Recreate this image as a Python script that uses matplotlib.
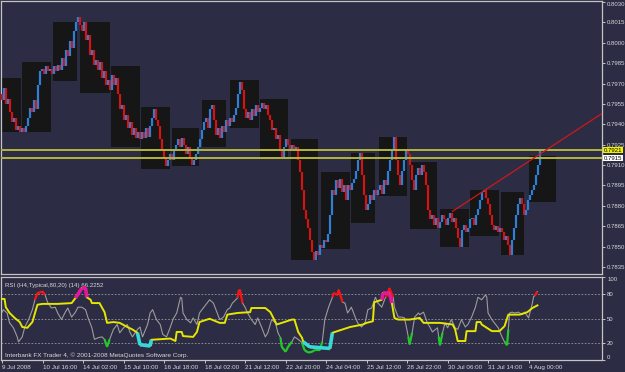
import numpy as np
import matplotlib
matplotlib.use("Agg")
import matplotlib.pyplot as plt
import matplotlib.transforms as mtransforms

# ---- data ----------------------------------------------------------------
# H1 closes, 9 Jul 2008 08:00 .. 4 Aug 2008 (about one sample per 1.6 bars)
closes = [
    0.7958, 0.7967, 0.7955, 0.7959, 0.7949, 0.7942, 0.7945, 0.7936, 0.7939, 0.7934,
    0.7937, 0.7934, 0.7939, 0.7945, 0.7952, 0.7949, 0.7958, 0.7951, 0.7969, 0.7979,
    0.7981, 0.7977, 0.7983, 0.7979, 0.7981, 0.7977, 0.7983, 0.7979, 0.7984, 0.7980,
    0.7989, 0.7983, 0.7995, 0.7990, 0.8001, 0.7996, 0.8009, 0.8015, 0.8019, 0.8013,
    0.8009, 0.8015, 0.8002, 0.8006, 0.7991, 0.7995, 0.7984, 0.7987, 0.7980, 0.7986,
    0.7974, 0.7979, 0.7969, 0.7973, 0.7965,
    0.7976, 0.7969, 0.7974, 0.7962, 0.7951, 0.7954, 0.7943, 0.7947, 0.7937, 0.7942,
    0.7932, 0.7937, 0.7930, 0.7934, 0.7929, 0.7934, 0.7930, 0.7937, 0.7931, 0.7939,
    0.7945, 0.7951, 0.7943, 0.7939, 0.7929, 0.7921, 0.7915, 0.7909, 0.7914, 0.7918,
    0.7914, 0.7921, 0.7925, 0.7929, 0.7923, 0.7930, 0.7925, 0.7918, 0.7923, 0.7915,
    0.7910, 0.7914, 0.7918, 0.7923, 0.7929,
    0.7936, 0.7942, 0.7945, 0.7937, 0.7951, 0.7954, 0.7943, 0.7932, 0.7937, 0.7930,
    0.7939, 0.7934, 0.7943, 0.7939, 0.7945,
    0.7942, 0.7947, 0.7952, 0.7962, 0.7971, 0.7965, 0.7951, 0.7945, 0.7949, 0.7943,
    0.7951, 0.7946, 0.7954, 0.7949, 0.7952,
    0.7956, 0.7951, 0.7954, 0.7947, 0.7943, 0.7936, 0.7937, 0.7929, 0.7932, 0.7921,
    0.7915, 0.7923, 0.7929, 0.7925, 0.7921,
    0.7925, 0.7920, 0.7923, 0.7914, 0.7905, 0.7892, 0.7877, 0.7870, 0.7864, 0.7855,
    0.7846, 0.7840, 0.7847, 0.7844, 0.7851,
    0.7849, 0.7855, 0.7853, 0.7859, 0.7873, 0.7892, 0.7888, 0.7899, 0.7893, 0.7900,
    0.7890, 0.7895, 0.7884, 0.7895, 0.7892,
    0.7897, 0.7900, 0.7906, 0.7914, 0.7919, 0.7903, 0.7888, 0.7877, 0.7881, 0.7888,
    0.7884, 0.7892, 0.7888, 0.7892, 0.7895,
    0.7889, 0.7899, 0.7895, 0.7906, 0.7914, 0.7921, 0.7931, 0.7914, 0.7903, 0.7895,
    0.7906, 0.7914, 0.7921, 0.7918, 0.7910,
    0.7899, 0.7892, 0.7903, 0.7908, 0.7903, 0.7910, 0.7905, 0.7895, 0.7877, 0.7870,
    0.7873, 0.7866, 0.7871, 0.7864, 0.7868,
    0.7873, 0.7870, 0.7866, 0.7871, 0.7875, 0.7868, 0.7871, 0.7864, 0.7856, 0.7850,
    0.7862, 0.7866, 0.7861, 0.7864, 0.7870,
    0.7871, 0.7866, 0.7873, 0.7878, 0.7884, 0.7890, 0.7892, 0.7886, 0.7881, 0.7873,
    0.7866, 0.7862, 0.7865, 0.7861, 0.7864,
    0.7861, 0.7855, 0.7858, 0.7851, 0.7844, 0.7855, 0.7864, 0.7873, 0.7881, 0.7886,
    0.7881, 0.7873, 0.7877, 0.7884, 0.7888,
    0.7892, 0.7895, 0.7903, 0.7910, 0.7921,
]
last_bar = 425

# daily range boxes (bar index start/end, high, low)
day_x0 = [0, 16, 40, 62, 86, 110, 134, 158, 180, 204, 228, 252, 276, 298, 322, 346, 370, 394, 416]
day_x1 = [15, 39, 59, 85, 109, 133, 156, 177, 203, 226, 250, 275, 295, 320, 344, 369, 393, 412, 438]
day_hi = [0.7974, 0.7986, 0.8015, 0.8015, 0.7983, 0.7953, 0.7937, 0.7958, 0.7973, 0.7959,
          0.7929, 0.7905, 0.7919, 0.7931, 0.7912, 0.7878, 0.7892, 0.7890, 0.7917]
day_lo = [0.7934, 0.7934, 0.7972, 0.7963, 0.7923, 0.7907, 0.7909, 0.7923, 0.7937, 0.7915,
          0.7840, 0.7848, 0.7867, 0.7887, 0.7863, 0.7850, 0.7858, 0.7844, 0.7883]

level_ask = 0.7921
level_bid = 0.7915
trend_x = [356, 474]
trend_y = [0.7876, 0.7948]

# RSI H4 (yellow) and RSI H1 (grey)
rsi4_x = [0, 2, 3, 6, 10, 14, 16, 20, 24, 27, 28, 32, 44, 55, 58, 63, 66, 67, 70, 71,
          77, 81, 83, 88, 93, 99, 103, 107, 109, 117, 118, 133, 137, 138, 142, 143, 151, 154, 156, 164,
          172, 176, 178, 186, 196, 197, 208, 212, 217, 229, 231, 234, 237, 238, 243, 259, 261, 269, 275, 285,
          288, 293, 294, 300, 301, 306, 308, 310, 313, 322, 330, 333, 346, 356, 358, 360, 366, 367, 374, 375,
          378, 379, 383, 387, 393, 397, 400, 409, 415, 419, 423]
rsi4_y = [74, 74, 64, 57, 51, 46, 40, 39, 46, 62, 67, 68, 68, 69, 75, 87, 87, 76, 73, 69,
          69, 58, 45, 46, 45, 40, 37, 33, 18.5, 17, 24.5, 26, 23, 34, 34, 29, 28, 34, 46, 50,
          45, 45, 55, 57, 58, 63, 63, 58, 43, 49, 49, 34, 27, 22, 16, 14, 33, 37, 40, 43,
          45, 47, 70, 73, 81, 81, 69, 51, 49, 49, 51, 45, 45, 43, 37, 23, 23, 35, 35, 46,
          46, 43, 39, 35, 35, 41, 55, 55, 58, 63, 66.2252]

rsi1_x = [0, 1, 4, 6, 9, 12, 13, 16, 18, 21, 24, 26, 28, 32, 34, 36, 39, 42, 44, 47,
          50, 52, 55, 58, 60, 63, 66, 68, 71, 73, 76, 79, 81, 83, 85, 88, 91, 93, 96, 99,
          101, 103, 107, 109, 111, 115, 117, 119, 122, 125, 127, 130, 133, 135, 138, 141, 142, 143, 146, 149,
          151, 154, 156, 159, 162, 164, 167, 170, 172, 175, 178, 180, 182, 186, 187, 188, 190, 192, 194, 197,
          200, 202, 205, 208, 210, 213, 216, 218, 220, 221, 224, 226, 229, 231, 234, 237, 239, 242, 245, 247,
          251, 253, 255, 258, 261, 262, 265, 266, 269, 271, 273, 276, 279, 281, 284, 287, 289, 292, 295, 297,
          300, 303, 305, 306, 309, 310, 313, 316, 318, 321, 322, 324, 326, 329, 330, 333, 336, 338, 340, 344,
          345, 346, 348, 350, 352, 355, 358, 360, 363, 366, 368, 371, 374, 376, 379, 382, 383, 384, 387, 389,
          392, 395, 397, 399, 400, 401, 403, 405, 408, 411, 413, 416, 419, 420, 421, 422, 423]
rsi1_y = [58, 61, 57, 45, 39, 28, 22, 28, 40, 49, 61, 73, 81, 83, 79, 70, 63, 64, 57, 49,
          58, 63, 52, 58, 64, 64, 61, 51, 39, 25, 27, 28, 25, 16, 25, 37, 43, 33, 39, 43,
          34, 28, 37, 40, 28, 43, 57, 61, 49, 43, 31, 28, 40, 49, 57, 76, 75, 57, 49, 45,
          51, 43, 57, 63, 69, 73, 69, 57, 49, 52, 61, 63, 69, 75, 84, 85, 69, 64, 57, 49,
          43, 51, 40, 28, 33, 49, 45, 33, 27, 16, 10, 16, 22, 28, 25, 21, 12, 9, 10, 12,
          12, 22, 49, 64, 76, 81, 79, 85, 70, 69, 57, 64, 52, 45, 40, 46, 61, 63, 76, 69,
          64, 76, 81, 87, 76, 64, 52, 52, 51, 28, 19, 33, 52, 57, 55, 58, 45, 40, 34, 39,
          28, 18, 33, 45, 39, 49, 39, 37, 49, 40, 43, 52, 64, 76, 73, 79, 76, 57, 49, 45,
          39, 28, 22, 18, 37, 57, 58, 57, 58, 55, 58, 51, 69, 77, 78, 81, 83]

tick_bars = [0, 32, 64, 96, 128, 160, 192, 224, 256, 288, 320, 352, 384, 416]
tick_labels = ["9 Jul 2008", "10 Jul 16:00", "14 Jul 02:00", "15 Jul 10:00", "16 Jul 18:00",
               "18 Jul 02:00", "21 Jul 12:00", "22 Jul 20:00", "24 Jul 04:00", "25 Jul 12:00",
               "28 Jul 22:00", "30 Jul 06:00", "31 Jul 14:00", "4 Aug 00:00"]
price_ticks = [0.8030, 0.8015, 0.8000, 0.7985, 0.7970, 0.7955, 0.7940, 0.7925,
               0.7910, 0.7895, 0.7880, 0.7865, 0.7850, 0.7835]
rsi_ticks = [0, 20, 50, 80, 100]

# ---- style ---------------------------------------------------------------
bg = "#2c2c44"
fg = "#d8d8d8"
fs = 4.3
plt.rcParams["font.family"] = ["Liberation Sans", "DejaVu Sans"]
W, H = 625, 372
fig = plt.figure(figsize=(W / 100, H / 100), dpi=100, facecolor=bg)

ax = fig.add_axes([1 / W, 1 - 274 / H, 601 / W, 273 / H], facecolor=bg)
ax2 = fig.add_axes([1 / W, 1 - 360 / H, 601 / W, 83 / H], facecolor=bg, sharex=ax)

# daily boxes
for x0, x1, hi, lo in zip(day_x0, day_x1, day_hi, day_lo):
    ax.fill_between([x0, x1], lo, hi, color="#161616", lw=0, zorder=1)

# candles
c = np.array(closes)
bx = np.linspace(0, last_bar, len(c))
op = np.r_[c[0] + 0.0004, c[:-1]]
lo = np.minimum(op, c)
hi = np.maximum(op, c)
hi = np.where(hi - lo < 0.00006, lo + 0.00006, hi)
cols = np.where(c >= op, "#2f7fd6", "#d41414")
ax.vlines(bx, lo, hi, colors=cols, lw=1.6, zorder=3)

# levels and trend line
ax.axhline(level_ask, color="#b4b43c", lw=1.4, zorder=4)
ax.axhline(level_bid, color="#b4b43c", lw=1.4, zorder=4)
ax.plot(trend_x, trend_y, color="#d01818", lw=0.9, zorder=5)

ax.set_xlim(-0.8, 474)
ax.set_ylim(0.78298, 0.80308)

# RSI panel
r4x, r4y = np.array(rsi4_x, float), np.array(rsi4_y, float)
r1x, r1y = np.array(rsi1_x, float), np.array(rsi1_y, float)
for lvl in (20, 50, 80):
    ax2.axhline(lvl, color="#9a9a9a", lw=0.6, ls=(0, (2, 2)), zorder=1)
ax2.plot(r1x, r1y, color="#9c9c9c", lw=0.8, zorder=2)
ax2.plot(r4x, r4y, color="#e6e600", lw=1.4, zorder=3)


def overlay(axx, xs, ys, mask_fn, color, lw):
    for i in range(len(xs) - 1):
        if mask_fn(ys[i]) or mask_fn(ys[i + 1]):
            axx.plot(xs[i:i + 2], ys[i:i + 2], color=color, lw=lw, zorder=4,
                     solid_capstyle="butt")


overlay(ax2, r1x, r1y, lambda v: v > 80, "#ff1010", 1.6)
overlay(ax2, r1x, r1y, lambda v: v < 20, "#20c828", 1.6)
overlay(ax2, r4x, r4y, lambda v: v > 80, "#e0189c", 2.6)
overlay(ax2, r4x, r4y, lambda v: v < 20, "#38d8d8", 2.6)
ax2.set_ylim(0, 100.6)

ax2.text(0.006, 0.93, "RSI (H4,Typical,80,20) (14) 66.2252", transform=ax2.transAxes,
         color=fg, fontsize=4.4, ha="left", va="top")
ax2.text(0.006, 0.03, "Interbank FX Trader 4, \u00a9 2001-2008 MetaQuotes Software Corp.",
         transform=ax2.transAxes, color=fg, fontsize=4.6, ha="left", va="bottom")

# axes cosmetics
for a in (ax, ax2):
    for s in a.spines.values():
        s.set_color("#c4c4c4")
        s.set_linewidth(0.9)
    a.yaxis.tick_right()
    a.tick_params(axis="y", colors="#c4c4c4", labelcolor=fg, labelsize=fs,
                  length=2.5, width=0.7, pad=1.2)

ax.set_yticks(price_ticks)
ax.set_yticklabels([f"{p:.4f}" for p in price_ticks])
ax.get_yticklabels()[0].set_va("top")
ax.tick_params(axis="x", bottom=False, labelbottom=False)

ax2.set_yticks(rsi_ticks)
ax2.set_yticklabels([str(t) for t in rsi_ticks])
for lab, t in zip(ax2.get_yticklabels(), rsi_ticks):
    if t == 100:
        lab.set_va("top")
    elif t == 0:
        lab.set_va("bottom")

ax2.set_xticks(tick_bars)
ax2.set_xticklabels(tick_labels, ha="left")
ax2.tick_params(axis="x", colors="#c4c4c4", labelcolor=fg, labelsize=4.5,
                length=2.5, width=0.7, pad=1)

# current price labels on the price scale
tr = mtransforms.blended_transform_factory(ax.transAxes, ax.transData)
ax.text(1.003, level_ask, f"{level_ask:.4f}", transform=tr, fontsize=fs, color="black",
        va="center", ha="left", zorder=6,
        bbox=dict(boxstyle="square,pad=0.12", facecolor="#f0f000", edgecolor="none"))
ax.text(1.003, level_bid, f"{level_bid:.4f}", transform=tr, fontsize=fs, color="black",
        va="center", ha="left", zorder=6,
        bbox=dict(boxstyle="square,pad=0.12", facecolor="white", edgecolor="none"))

fig.savefig("out.png", dpi=100, facecolor=bg)
